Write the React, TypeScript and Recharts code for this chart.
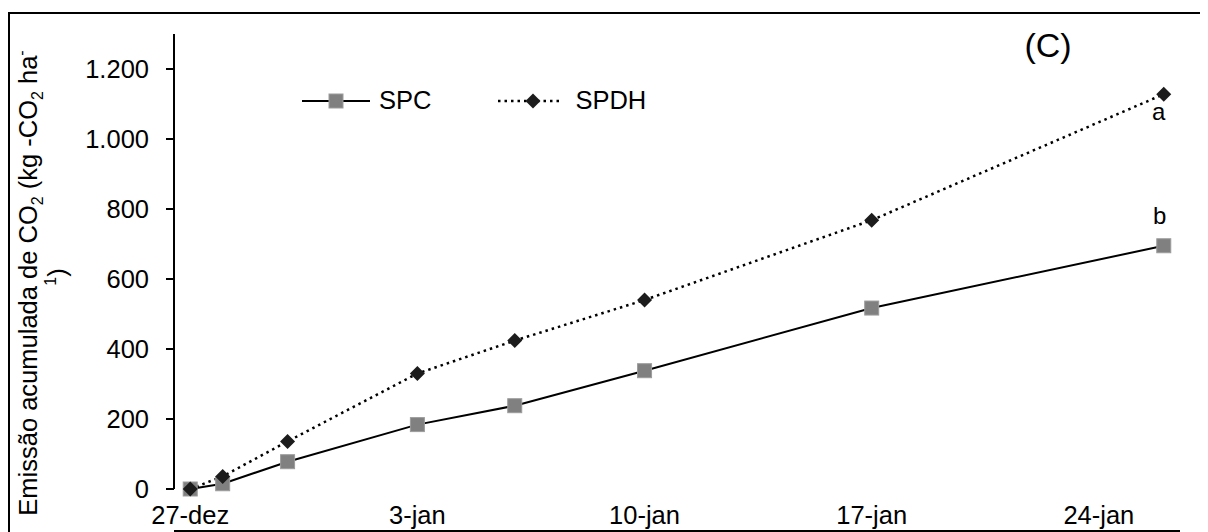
import React from "react";
import { Legend, Line, LineChart, XAxis, YAxis } from "recharts";

// days counted from 27-dez
const days = [0, 1, 3, 7, 10, 14, 21, 30];
const spcValues = [0, 15, 78, 184, 238, 338, 517, 695];
const spdhValues = [0, 36, 136, 330, 424, 540, 768, 1128];

const dateTicks = [0, 7, 14, 21, 28];
const dateLabels = ["27-dez", "3-jan", "10-jan", "17-jan", "24-jan"];
const dayBoundaries = [-0.5, 6.5, 13.5, 20.5, 27.5];

const yTicks = [0, 200, 400, 600, 800, 1000, 1200];
const yTickLabels = ["0", "200", "400", "600", "800", "1.000", "1.200"];

const spcLetter = "b";
const spdhLetter = "a";

const data = days.map((day, i) => ({ day, SPC: spcValues[i], SPDH: spdhValues[i] }));

const FONT = '"Liberation Sans", Arial, sans-serif';
const FS = 25.5;
const GRAY = "#808080";
const DARK = "#1c1c1c";

function SquareDot(props: any) {
  const { cx, cy } = props;
  if (cx == null || cy == null) return <g />;
  return <rect x={cx - 7} y={cy - 7} width={14} height={14} fill={GRAY} stroke="#9c9c9c" strokeWidth={1} />;
}

function DiamondDot(props: any) {
  const { cx, cy } = props;
  if (cx == null || cy == null) return <g />;
  const r = 7.5;
  return <polygon points={`${cx},${cy - r} ${cx + r},${cy} ${cx},${cy + r} ${cx - r},${cy}`} fill={DARK} />;
}

function YLabel() {
  return (
    <g fontFamily={FONT} fontSize={FS} fill="#000">
      <text transform="translate(29, 275) rotate(-90)" textAnchor="middle">
        {"Emissão acumulada de CO"}
        <tspan dy={6} fontSize={16}>2</tspan>
        <tspan dy={-6}>{" (kg -CO"}</tspan>
        <tspan dy={6} fontSize={16}>2</tspan>
        <tspan dy={-6}>{" ha"}</tspan>
        <tspan dy={-10} fontSize={16}>-</tspan>
      </text>
      <text transform="translate(58, 269) rotate(-90)" textAnchor="middle">
        <tspan dy={-10} fontSize={16}>1</tspan>
        <tspan dy={10}>)</tspan>
      </text>
    </g>
  );
}

function letterLabel(letter: string, dx: number, dy: number) {
  return (props: any) => {
    const { x, y, index } = props;
    if (index !== days.length - 1) return null;
    return (
      <text x={x + dx} y={y + dy} textAnchor="middle" fontFamily={FONT} fontSize={24} fill="#000">
        {letter}
      </text>
    );
  };
}

function LegendBox() {
  return (
    <div style={{ display: "flex", alignItems: "center", fontFamily: FONT, fontSize: FS, color: "#000", lineHeight: "29px" }}>
      <svg width={68} height={20}>
        <line x1={0} x2={68} y1={10} y2={10} stroke="#000" strokeWidth={2} />
        <rect x={27} y={3} width={14} height={14} fill={GRAY} stroke="#9c9c9c" strokeWidth={1} />
      </svg>
      <span style={{ marginLeft: 9 }}>SPC</span>
      <svg width={64} height={20} style={{ marginLeft: 67 }}>
        <line x1={0} x2={64} y1={10} y2={10} stroke="#000" strokeWidth={2.5} strokeDasharray="2.5 4" />
        <polygon points="35,2.5 42.5,10 35,17.5 27.5,10" fill={DARK} />
      </svg>
      <span style={{ marginLeft: 13 }}>SPDH</span>
    </div>
  );
}

export default function App() {
  return (
    <div style={{ position: "relative", width: 1200, height: 524, overflow: "hidden", fontFamily: FONT }}>
      <div
        style={{
          position: "absolute",
          left: 0,
          top: 4,
          width: 1220,
          height: 600,
          borderTop: "2px solid #000",
          borderLeft: "2px solid #000",
          boxSizing: "border-box",
        }}
      />
      <LineChart
        width={1200}
        height={524}
        data={data}
        margin={{ top: 26, right: 28, bottom: 0, left: 0 }}
        style={{ position: "absolute", left: 0, top: 0 }}
      >
        <XAxis
          xAxisId="grid"
          dataKey="day"
          type="number"
          domain={[-0.5, 30.5]}
          ticks={dayBoundaries}
          interval={0}
          tick={false}
          tickSize={8}
          height={1}
          axisLine={{ stroke: "#000", strokeWidth: 2 }}
          tickLine={{ stroke: "#000", strokeWidth: 2 }}
        />
        <XAxis
          xAxisId="dates"
          dataKey="day"
          type="number"
          domain={[-0.5, 30.5]}
          ticks={dateTicks}
          interval={0}
          tickFormatter={(v: number) => dateLabels[dateTicks.indexOf(v)] ?? ""}
          height={42}
          axisLine={false}
          tickLine={false}
          tickSize={0}
          tickMargin={17}
          tick={{ fill: "#000", fontSize: FS, fontFamily: FONT }}
        />
        <YAxis
          type="number"
          domain={[0, 1300]}
          ticks={yTicks}
          interval={0}
          width={166}
          tickFormatter={(v: number) => yTickLabels[yTicks.indexOf(v)] ?? String(v)}
          tickSize={8}
          tickMargin={17}
          axisLine={{ stroke: "#000", strokeWidth: 2 }}
          tickLine={{ stroke: "#000", strokeWidth: 2 }}
          tick={{ fill: "#000", fontSize: FS, fontFamily: FONT }}
          label={() => <YLabel />}
        />
        <Legend
          layout="horizontal"
          verticalAlign="middle"
          align="center"
          content={() => <LegendBox />}
          wrapperStyle={{ top: 78, left: 294, width: "auto" }}
        />
        <Line
          xAxisId="dates"
          type="linear"
          dataKey="SPC"
          stroke="#000"
          strokeWidth={2}
          dot={(p: any) => <SquareDot key={`s-${p.index}`} {...p} />}
          activeDot={false}
          label={letterLabel(spcLetter, -4, -22)}
          isAnimationActive={false}
        />
        <Line
          xAxisId="dates"
          type="linear"
          dataKey="SPDH"
          stroke="#000"
          strokeWidth={2.5}
          strokeDasharray="2.5 4"
          dot={(p: any) => <DiamondDot key={`d-${p.index}`} {...p} />}
          activeDot={false}
          label={letterLabel(spdhLetter, -5, 26)}
          isAnimationActive={false}
        />
      </LineChart>
      <svg width={1200} height={524} style={{ position: "absolute", left: 0, top: 0, pointerEvents: "none" }}>
        <text x={1040} y={49} textAnchor="middle" fontFamily={FONT} fontSize={34} fill="#000">
          (C)
        </text>
      </svg>
    </div>
  );
}
